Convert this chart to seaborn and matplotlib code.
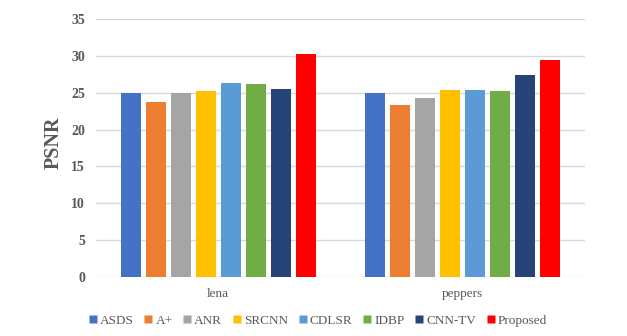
import pandas as pd
import matplotlib
matplotlib.use("Agg")
import matplotlib.pyplot as plt
import seaborn as sns
from matplotlib.lines import Line2D

# values
images = ["lena", "peppers"]
methods = ["ASDS", "A+", "ANR", "SRCNN", "CDLSR", "IDBP", "CNN-TV", "Proposed"]
lena_psnr = [25.0, 23.7, 25.0, 25.3, 26.3, 26.2, 25.5, 30.3]
peppers_psnr = [25.0, 23.3, 24.3, 25.4, 25.4, 25.3, 27.4, 29.4]
colors = ["#4472C4", "#ED7D31", "#A5A5A5", "#FFC000",
          "#5B9BD5", "#70AD47", "#264478", "#FF0000"]

rows = []
for img, vals in zip(images, [lena_psnr, peppers_psnr]):
    for m, v in zip(methods, vals):
        rows.append({"image": img, "method": m, "psnr": v})
df = pd.DataFrame(rows)

sns.set_style("white")
plt.rcParams["font.family"] = ["Liberation Serif", "DejaVu Serif"]

fig = plt.figure(figsize=(6.27, 3.36), dpi=100)
ax = fig.add_axes([96 / 627, 1 - 277 / 336, 489 / 627, 258 / 336])

sns.barplot(data=df, x="image", y="psnr", hue="method", hue_order=methods,
            palette=colors, width=0.82, gap=0.2, saturation=1,
            legend=False, ax=ax, edgecolor="none")

ax.set_ylim(0, 35)
ax.set_yticks(range(0, 36, 5))
ax.set_xlim(-0.5, 1.5)
ax.yaxis.grid(True, color="#D9D9D9", linewidth=1)
ax.set_axisbelow(True)
for s in ax.spines.values():
    s.set_visible(False)
ax.tick_params(axis="both", length=0)
ax.tick_params(axis="y", labelsize=10, labelcolor="#595959", pad=8)
ax.tick_params(axis="x", labelsize=9.5, labelcolor="#595959", pad=8)
for t in ax.get_yticklabels():
    t.set_fontweight("bold")
ax.set_xlabel("")
ax.set_ylabel("PSNR", fontsize=14.5, fontweight="bold", color="#595959")
ax.yaxis.set_label_coords(-0.066, 0.52)

handles = [Line2D([0], [0], marker="s", linestyle="none", markersize=5.5,
                  markerfacecolor=c, markeredgecolor="none") for c in colors]
fig.legend(handles, methods, loc="center", bbox_to_anchor=(0.507, 0.045),
           ncol=8, frameon=False, fontsize=9.5, handlelength=0.6,
           handletextpad=0.25, columnspacing=0.8, labelcolor="#595959")

fig.savefig("out.png", dpi=100)
